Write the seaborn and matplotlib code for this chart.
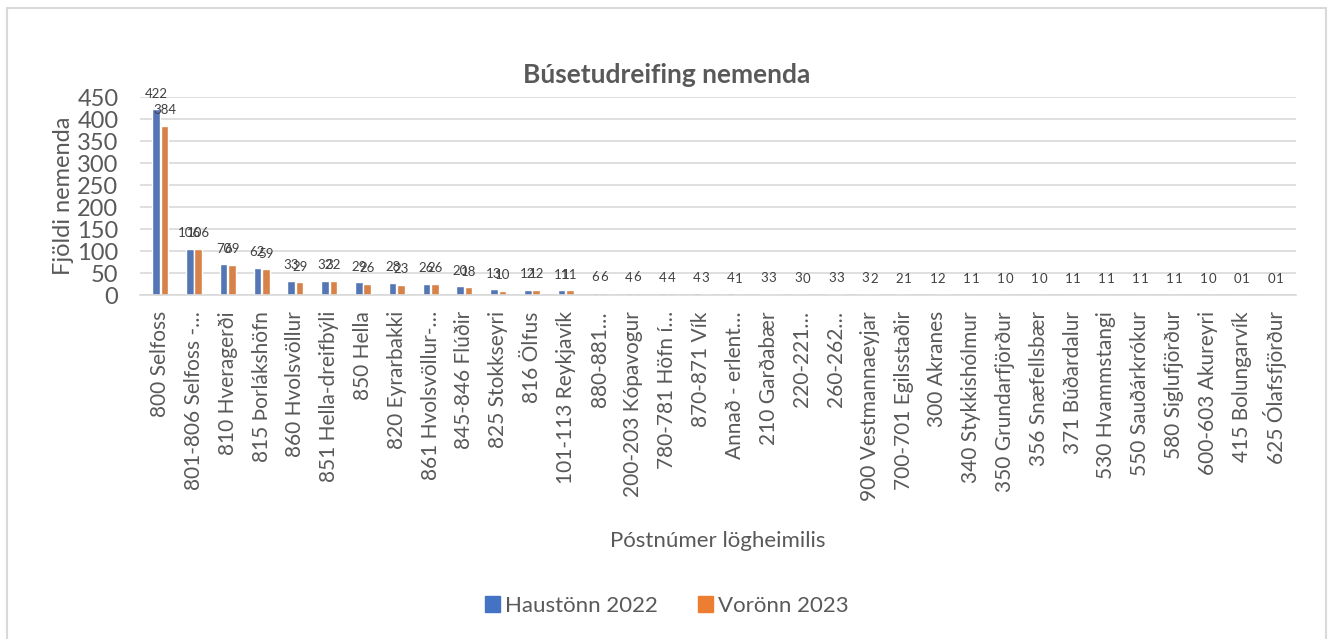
import seaborn as sns
import matplotlib.pyplot as plt
import pandas as pd
from matplotlib.patches import Rectangle

# categories and values
categories = ["800 Selfoss", "801-806 Selfoss -…", "810 Hveragerði", "815 Þorlákshöfn",
              "860 Hvolsvöllur", "851 Hella-dreifbýli", "850 Hella", "820 Eyrarbakki",
              "861 Hvolsvöllur-…", "845-846 Flúðir", "825 Stokkseyri", "816 Ölfus",
              "101-113 Reykjavík", "880-881…", "200-203 Kópavogur", "780-781 Höfn í…",
              "870-871 Vík", "Annað - erlent…", "210 Garðabær", "220-221…", "260-262…",
              "900 Vestmannaeyjar", "700-701 Egilsstaðir", "300 Akranes",
              "340 Stykkishólmur", "350 Grundarfjörður", "356 Snæfellsbær",
              "371 Búðardalur", "530 Hvammstangi", "550 Sauðárkrókur",
              "580 Siglufjörður", "600-603 Akureyri", "415 Bolungarvík",
              "625 Ólafsfjörður"]
haust_2022 = [422, 106, 70, 62, 33, 32, 29, 28, 26, 20, 13, 12, 11, 6, 4, 4, 4, 4,
              3, 3, 3, 3, 2, 1, 1, 1, 1, 1, 1, 1, 1, 1, 0, 0]
vor_2023 = [384, 106, 69, 59, 29, 32, 26, 23, 26, 18, 10, 12, 11, 6, 6, 4, 3, 1,
            3, 0, 3, 2, 1, 2, 1, 0, 0, 1, 1, 1, 1, 0, 1, 1]
series_names = ["Haustönn 2022", "Vorönn 2023"]
colors = ["#4472C4", "#ED7D31"]

df = pd.DataFrame({
    "cat": categories * 2,
    "val": haust_2022 + vor_2023,
    "series": [series_names[0]] * len(categories) + [series_names[1]] * len(categories),
})

sns.set_style("white")
plt.rcParams['font.family'] = ['Lato', 'DejaVu Sans']
txt = "#595959"

fig = plt.figure(figsize=(13.33, 6.39), dpi=100)
ax = fig.add_axes([0.105, 0.538, 0.867, 0.310])

sns.barplot(data=df, x="cat", y="val", hue="series", palette=colors,
            width=0.5, gap=0.1, ax=ax, legend=False)

for cont in ax.containers:
    ax.bar_label(cont, fmt="%d", padding=7, fontsize=9.5, color="#404040")

ax.set_ylim(0, 450)
ax.set_yticks(range(0, 451, 50))
ax.set_xlim(-0.6, len(categories) - 0.4)
ax.yaxis.grid(True, color="#D9D9D9", linewidth=1.2)
ax.set_axisbelow(True)
for s in ["left", "right", "top"]:
    ax.spines[s].set_visible(False)
ax.spines["bottom"].set_color("#D9D9D9")
ax.spines["bottom"].set_linewidth(1.2)
ax.tick_params(left=False, bottom=False, colors=txt)
ax.tick_params(axis="y", labelsize=17, pad=12)
ax.tick_params(axis="x", labelsize=15, labelrotation=90, pad=8)

ax.set_ylabel("Fjöldi nemenda", fontsize=17, color=txt, labelpad=2)
ax.set_xlabel("Póstnúmer lögheimilis", fontsize=16, color=txt, labelpad=22)

fig.text(0.5, 1 - 75 / 639, "Búsetudreifing nemenda", ha="center", va="center",
         fontsize=19, fontweight="bold", color=txt)

handles = [Rectangle((0, 0), 1, 1, color=c) for c in colors]
fig.legend(handles, series_names, loc="center", bbox_to_anchor=(0.5, 1 - 606 / 639),
           ncol=2, frameon=False, fontsize=16, handlelength=0.7, handleheight=0.7,
           handletextpad=0.2, columnspacing=1.8, labelcolor=txt)

# chart frame
fig.patches.append(Rectangle((7 / 1333, -0.05), 1319 / 1333, 1.05 - 8 / 639,
                             transform=fig.transFigure, fill=False,
                             edgecolor="#D9D9D9", linewidth=1.5))

plt.savefig("out.png", dpi=100)
